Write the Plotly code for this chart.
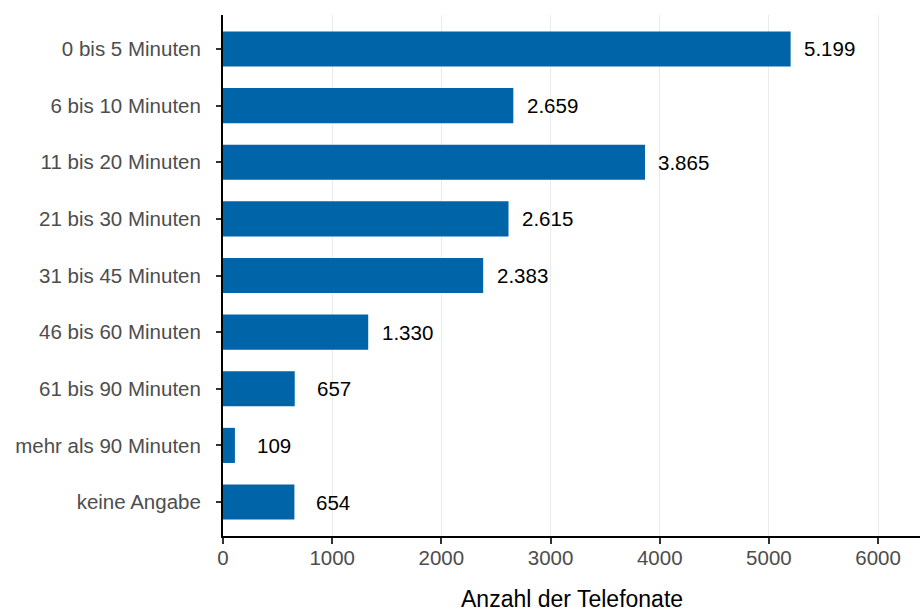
import plotly.graph_objects as go

categories = ["0 bis 5 Minuten", "6 bis 10 Minuten", "11 bis 20 Minuten", "21 bis 30 Minuten",
              "31 bis 45 Minuten", "46 bis 60 Minuten", "61 bis 90 Minuten",
              "mehr als 90 Minuten", "keine Angabe"]
values = [5199, 2659, 3865, 2615, 2383, 1330, 657, 109, 654]
x_ticks = [0, 1000, 2000, 3000, 4000, 5000, 6000]
x_title = "Anzahl der Telefonate"

BAR = "#0064A9"
FONT = "Liberation Sans, Arial, sans-serif"

def de_fmt(v):
    return f"{v:,}".replace(",", ".")

fig = go.Figure()
fig.add_trace(go.Bar(
    y=categories, x=values, orientation="h",
    marker=dict(color=BAR, line=dict(width=0)),
    width=0.62, hoverinfo="x+y",
))

for c, v in zip(categories, values):
    fig.add_annotation(x=v, y=c, text=de_fmt(v), showarrow=False,
                       xanchor="center", yanchor="middle", xshift=39,
                       font=dict(family=FONT, size=20.5, color="#000000"))

fig.add_annotation(x=0.5, y=0, xref="paper", yref="paper", text=x_title, showarrow=False,
                   xanchor="center", yanchor="bottom", yshift=-77, borderpad=0,
                   font=dict(family=FONT, size=23, color="#000000"))

fig.update_layout(
    width=920, height=613,
    margin=dict(l=223, r=0, t=15, b=77, autoexpand=False),
    paper_bgcolor="white", plot_bgcolor="white",
    showlegend=False,
    font=dict(family=FONT, size=20, color="#4D4D4D"),
)
fig.update_xaxes(
    range=[0, 6384], tickvals=x_ticks, ticktext=[str(t) for t in x_ticks],
    showgrid=True, gridcolor="#EBEBEB", gridwidth=1.2,
    zeroline=False, showline=True, linecolor="#000000", linewidth=2,
    ticks="outside", ticklen=6, tickwidth=2, tickcolor="#333333",
    tickfont=dict(family=FONT, size=20.5, color="#4D4D4D"),
    ticklabelstandoff=-4, automargin=False,
)
fig.update_yaxes(
    type="category", categoryorder="array", categoryarray=categories,
    range=[8.6, -0.6],
    showgrid=False, zeroline=False, showline=True, linecolor="#000000", linewidth=2,
    ticks="outside", ticklen=5, tickwidth=2, tickcolor="#333333",
    tickfont=dict(family=FONT, size=20.5, color="#4D4D4D"),
    ticklabelstandoff=11, automargin=False,
)

fig.write_html("out.html", config={"displayModeBar": False},
               post_script="document.body.style.margin='0';document.body.style.padding='0';document.body.style.overflow='hidden';")
